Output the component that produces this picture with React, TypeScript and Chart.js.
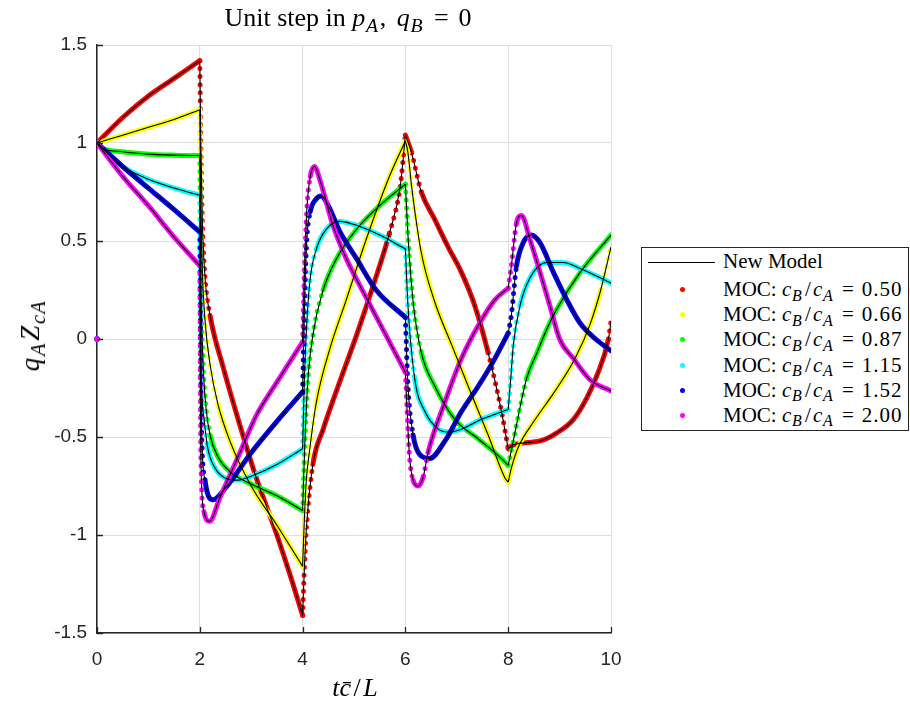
import React, { useEffect, useRef } from 'react';
import { Chart, registerables } from 'chart.js';

Chart.register(...registerables);

type P = [number, number];

// x tick values and y tick labels
const xTicks = [0, 2, 4, 6, 8, 10];
const yTicks = [-1.5, -1, -0.5, 0, 0.5, 1, 1.5];
const yTickLabels = ['-1.5', '-1', '-0.5', '0', '0.5', '1', '1.5'];

// times where the response has a kink (wave reflections)
const kinkTimes = [2, 4, 6, 8];

const ratioLabels = ['0.50', '0.66', '0.87', '1.15', '1.52', '2.00'];
const seriesColors = ['#ff0000', '#ffff00', '#00ff00', '#00ffff', '#0000ff', '#ff00ff'];

// MOC value at t = 0 (before the step)
const initialValue = 0;

// c_B/c_A = 0.50
const red: P[] = [
  [0, 1], [0.5, 1.13], [1, 1.24], [1.5, 1.33], [2, 1.42], [2.02, 1.0], [2.05, 0.6], [2.1, 0.32],
  [2.2, 0.12], [2.45, -0.14], [2.78, -0.44], [3.1, -0.71], [3.5, -1.0], [3.8, -1.24], [4, -1.41],
  [4.03, -1.2], [4.07, -0.98], [4.2, -0.64], [4.4, -0.46], [4.72, -0.22], [5.05, 0.02], [5.37, 0.27],
  [5.69, 0.54], [5.9, 0.78], [6, 1.04], [6.12, 0.95], [6.31, 0.75], [6.57, 0.61], [6.83, 0.47],
  [7.09, 0.34], [7.35, 0.17], [7.61, -0.07], [7.87, -0.37], [8, -0.56], [8.1, -0.54], [8.62, -0.52],
  [8.94, -0.48], [9.27, -0.41], [9.53, -0.3], [9.72, -0.19], [9.95, 0.0], [10, 0.09],
];

// c_B/c_A = 0.66
const yellow: P[] = [
  [0, 1], [0.5, 1.04], [1, 1.08], [1.5, 1.12], [2, 1.17], [2.02, 0.7], [2.05, 0.35], [2.1, 0.1],
  [2.2, -0.13], [2.35, -0.33], [2.6, -0.53], [3, -0.75], [3.5, -0.95], [4, -1.16], [4.03, -0.95],
  [4.07, -0.73], [4.14, -0.56], [4.27, -0.32], [4.53, -0.05], [4.85, 0.2], [5.24, 0.51], [5.69, 0.83],
  [6, 1.01], [6.05, 0.95], [6.12, 0.78], [6.31, 0.44], [6.57, 0.19], [6.9, -0.03], [7.22, -0.24],
  [7.61, -0.49], [7.94, -0.71], [8, -0.73], [8.06, -0.66], [8.2, -0.55], [8.5, -0.42], [8.9, -0.27],
  [9.3, -0.1], [9.6, 0.08], [9.8, 0.25], [10, 0.47],
];

// c_B/c_A = 0.87
const green: P[] = [
  [0, 1], [0.1, 0.975], [0.5, 0.955], [1, 0.943], [1.5, 0.938], [2, 0.936], [2.02, 0.3], [2.06, -0.1],
  [2.12, -0.35], [2.2, -0.49], [2.35, -0.6], [2.6, -0.68], [3, -0.74], [3.5, -0.8], [4, -0.875],
  [4.04, -0.56], [4.1, -0.22], [4.2, 0.02], [4.4, 0.25], [4.66, 0.41], [5.05, 0.56], [5.5, 0.68],
  [6, 0.79], [6.05, 0.53], [6.15, 0.19], [6.31, -0.07], [6.57, -0.24], [6.96, -0.41], [7.42, -0.51],
  [7.87, -0.61], [8, -0.645], [8.1, -0.52], [8.16, -0.44], [8.36, -0.2], [8.56, -0.07], [8.75, 0.05],
  [8.94, 0.15], [9.4, 0.34], [10, 0.53],
];

// c_B/c_A = 1.15
const cyan: P[] = [
  [0, 1], [0.5, 0.88], [1, 0.815], [1.5, 0.77], [2, 0.733], [2.02, -0.1], [2.08, -0.4], [2.15, -0.55],
  [2.3, -0.66], [2.5, -0.71], [2.75, -0.72], [3, -0.7], [3.5, -0.64], [4, -0.56], [4.03, -0.25],
  [4.07, 0.02], [4.14, 0.29], [4.27, 0.46], [4.46, 0.56], [4.72, 0.6], [5.05, 0.58], [5.5, 0.53],
  [6, 0.46], [6.05, 0.17], [6.18, -0.2], [6.38, -0.37], [6.64, -0.46], [6.83, -0.475], [7.09, -0.46],
  [7.48, -0.41], [8, -0.36], [8.05, -0.2], [8.1, -0.03], [8.23, 0.17], [8.42, 0.31], [8.75, 0.39],
  [9.07, 0.39], [9.4, 0.36], [10, 0.285],
];

// c_B/c_A = 1.52
const blue: P[] = [
  [0, 1], [0.5, 0.88], [1, 0.77], [1.5, 0.66], [2, 0.546], [2.03, -0.4], [2.1, -0.72], [2.26, -0.82],
  [2.5, -0.76], [3, -0.58], [3.5, -0.42], [4, -0.27], [4.04, 0.2], [4.08, 0.5], [4.15, 0.65],
  [4.25, 0.71], [4.36, 0.73], [4.5, 0.68], [4.72, 0.55], [5.05, 0.41], [5.43, 0.25], [6, 0.11],
  [6.05, -0.24], [6.15, -0.49], [6.28, -0.59], [6.47, -0.61], [6.77, -0.52], [7.09, -0.37],
  [7.42, -0.24], [7.74, -0.1], [8, 0.03], [8.06, 0.12], [8.16, 0.37], [8.29, 0.49], [8.45, 0.53],
  [8.62, 0.49], [8.88, 0.34], [9.14, 0.2], [9.4, 0.08], [9.7, 0.0], [10, -0.06],
];

// c_B/c_A = 2.00
const magenta: P[] = [
  [0, 1], [0.5, 0.83], [1, 0.68], [1.5, 0.52], [2, 0.374], [2.02, -0.6], [2.08, -0.88], [2.19, -0.93],
  [2.39, -0.81], [2.78, -0.58], [3.1, -0.39], [3.5, -0.22], [4, -0.015], [4.03, 0.3], [4.08, 0.65],
  [4.15, 0.83], [4.23, 0.88], [4.35, 0.8], [4.59, 0.58], [4.85, 0.41], [5.18, 0.24], [5.56, 0.05],
  [6, -0.17], [6.03, -0.35], [6.08, -0.6], [6.15, -0.72], [6.25, -0.75], [6.35, -0.7], [6.44, -0.58],
  [6.77, -0.32], [7.09, -0.1], [7.42, 0.07], [7.74, 0.2], [8, 0.26], [8.06, 0.37], [8.16, 0.59],
  [8.26, 0.63], [8.42, 0.51], [8.62, 0.34], [8.81, 0.17], [9, 0.0], [9.27, -0.1], [9.6, -0.21],
  [10, -0.265],
];

const allSeries = [red, yellow, green, cyan, blue, magenta];

// split a series into smooth pieces that meet at the kink times
function splitAtKinks(s: P[]): P[][] {
  const pieces: P[][] = [];
  let cur: P[] = [];
  s.forEach((p, i) => {
    cur.push(p);
    if (i > 0 && i < s.length - 1 && kinkTimes.includes(p[0])) {
      pieces.push(cur);
      cur = [p];
    }
  });
  if (cur.length > 1) pieces.push(cur);
  return pieces;
}

const toXY = (s: P[]) => s.map(([x, y]) => ({ x, y }));

const inwardTicks = {
  id: 'inwardTicks',
  afterDatasetsDraw(chart: any) {
    const { ctx, chartArea, scales } = chart;
    const { left, bottom } = chartArea;
    ctx.save();
    ctx.strokeStyle = '#262626';
    ctx.lineWidth = 1.3;
    ctx.beginPath();
    xTicks.forEach((v) => {
      const px = Math.round(scales.x.getPixelForValue(v)) + 0.5;
      ctx.moveTo(px, bottom);
      ctx.lineTo(px, bottom - 6);
    });
    yTicks.forEach((v) => {
      const py = Math.round(scales.y.getPixelForValue(v)) + 0.5;
      ctx.moveTo(left, py);
      ctx.lineTo(left + 6, py);
    });
    ctx.stroke();
    ctx.restore();
  },
};

const serif = '"Liberation Serif", "Times New Roman", serif';

const Sub = ({ children }: { children: React.ReactNode }) => (
  <span style={{ fontSize: '0.76em', fontStyle: 'italic', position: 'relative', top: '0.3em', marginLeft: '0.04em', marginRight: '0.08em' }}>
    {children}
  </span>
);

const Eq = () => <span style={{ margin: '0 0.38em' }}>=</span>;
const Slash = () => <span style={{ margin: '0 0.1em' }}>/</span>;

export default function App() {
  const ref = useRef<HTMLCanvasElement | null>(null);

  useEffect(() => {
    if (!ref.current) return;
    const steep = (ctx: any) => {
      const dx = Math.abs(ctx.p1.x - ctx.p0.x);
      const dy = Math.abs(ctx.p1.y - ctx.p0.y);
      return dy > 14 && dy > 4 * dx ? [0, 8] : undefined;
    };
    const datasets: any[] = [];
    allSeries.forEach((s) => {
      splitAtKinks(s).forEach((piece) => {
        datasets.push({
          label: 'New Model',
          data: toXY(piece),
          borderColor: '#000000',
          backgroundColor: '#000000',
          borderWidth: 1.1,
          pointRadius: 0,
          cubicInterpolationMode: 'monotone',
          fill: false,
          order: 0,
        });
      });
    });
    allSeries.forEach((s, i) => {
      splitAtKinks(s).forEach((piece) => {
        datasets.push({
          label: `MOC: cB/cA = ${ratioLabels[i]}`,
          data: toXY(piece),
          borderColor: seriesColors[i],
          backgroundColor: seriesColors[i],
          borderWidth: 5,
          borderCapStyle: 'round',
          borderJoinStyle: 'round',
          pointRadius: 0,
          cubicInterpolationMode: 'monotone',
          fill: false,
          order: 1 + (allSeries.length - 1 - i),
          segment: { borderDash: steep },
        });
      });
    });
    // MOC samples at t = 0 (value before the step)
    datasets.push({
      label: 'MOC t=0',
      data: seriesColors.map(() => ({ x: 0, y: initialValue })),
      showLine: false,
      pointRadius: 2.8,
      pointBorderWidth: 0,
      pointBackgroundColor: seriesColors,
      order: 0.5,
      clip: false,
    });

    const chart = new Chart(ref.current, {
      type: 'line',
      data: { datasets },
      options: {
        responsive: false,
        animation: false,
        devicePixelRatio: 1,
        layout: { padding: { left: 0, right: 299, top: 45, bottom: 0 } },
        plugins: {
          legend: { display: false },
          tooltip: { enabled: false },
          title: { display: false },
        },
        scales: {
          x: {
            type: 'linear',
            min: 0,
            max: 10,
            afterFit: (s: any) => {
              s.height = 71;
            },
            afterBuildTicks: (s: any) => {
              s.ticks = xTicks.map((v) => ({ value: v }));
            },
            ticks: {
              font: { family: '"Liberation Sans", Arial, sans-serif', size: 19 },
              color: '#262626',
              padding: 15,
              maxRotation: 0,
            },
            grid: { color: '#dedede', lineWidth: 1, drawTicks: false },
            border: { display: true, color: '#262626', width: 1.5 },
          },
          y: {
            type: 'linear',
            min: -1.5,
            max: 1.5,
            afterFit: (s: any) => {
              s.width = 97;
            },
            afterBuildTicks: (s: any) => {
              s.ticks = yTicks.map((v) => ({ value: v }));
            },
            ticks: {
              font: { family: '"Liberation Sans", Arial, sans-serif', size: 19 },
              color: '#262626',
              padding: 10,
              callback: (v: any) => {
                const idx = yTicks.indexOf(Number(v));
                return idx >= 0 ? yTickLabels[idx] : '';
              },
            },
            grid: { color: '#dedede', lineWidth: 1, drawTicks: false },
            border: { display: true, color: '#262626', width: 1.5 },
          },
        },
      },
      plugins: [inwardTicks],
    });
    return () => chart.destroy();
  }, []);

  const rowBaselines = [296, 321, 346, 371.5, 396.5, 421.5];

  return (
    <div style={{ position: 'absolute', left: 0, top: 0, width: 910, height: 704, background: '#fff', overflow: 'hidden' }}>
      <canvas ref={ref} width={910} height={704} style={{ position: 'absolute', left: 0, top: 0 }} />
      {/* Title */}
      <div
        style={{
          position: 'absolute', left: 0, width: 696, top: 4, textAlign: 'center',
          fontFamily: serif, fontSize: 26, lineHeight: '28px', color: '#000', whiteSpace: 'nowrap',
        }}
      >
        Unit step in <i>p</i><Sub>A</Sub>,<span style={{ marginLeft: '0.15em' }}> </span><i>q</i><Sub>B</Sub><Eq />0
      </div>
      {/* X axis title */}
      <div
        style={{
          position: 'absolute', left: 0, width: 710, top: 674, textAlign: 'center',
          fontFamily: serif, fontSize: 26, lineHeight: '28px', color: '#000', whiteSpace: 'nowrap',
        }}
      >
        <i>t</i><i>c{'\u0304'}</i><Slash /><i>L</i>
      </div>
      {/* Y axis title */}
      <div
        style={{
          position: 'absolute', left: 31, top: 335, transform: 'translate(-50%, -50%) rotate(-90deg)',
          fontFamily: serif, fontSize: 27, lineHeight: '28px', color: '#000', whiteSpace: 'nowrap',
          letterSpacing: '1px',
        }}
      >
        <i>q</i><Sub>A</Sub><i>Z</i><Sub>cA</Sub>
      </div>
      {/* Legend */}
      <div
        style={{
          position: 'absolute', left: 641, top: 247, width: 268, height: 184,
          border: '1px solid #262626', background: '#fff', boxSizing: 'border-box',
        }}
      />
      <div style={{ position: 'absolute', left: 648, top: 262, width: 67, height: 1, background: '#000' }} />
      <div
        style={{
          position: 'absolute', left: 723, top: 268 - 19, fontFamily: serif, fontSize: 21,
          lineHeight: '24px', whiteSpace: 'nowrap', color: '#000',
        }}
      >
        New Model
      </div>
      {ratioLabels.map((r, i) => (
        <React.Fragment key={r}>
          <div
            style={{
              position: 'absolute', left: 680, top: rowBaselines[i] - 9, width: 5, height: 5,
              borderRadius: '50%', background: seriesColors[i],
            }}
          />
          <div
            style={{
              position: 'absolute', left: 723, top: rowBaselines[i] - 19, fontFamily: serif, fontSize: 21,
              lineHeight: '24px', whiteSpace: 'nowrap', color: '#000',
            }}
          >
            MOC: <i>c</i><Sub>B</Sub><Slash /><i>c</i><Sub>A</Sub><Eq /><span style={{ letterSpacing: '1px' }}>{r}</span>
          </div>
        </React.Fragment>
      ))}
    </div>
  );
}
